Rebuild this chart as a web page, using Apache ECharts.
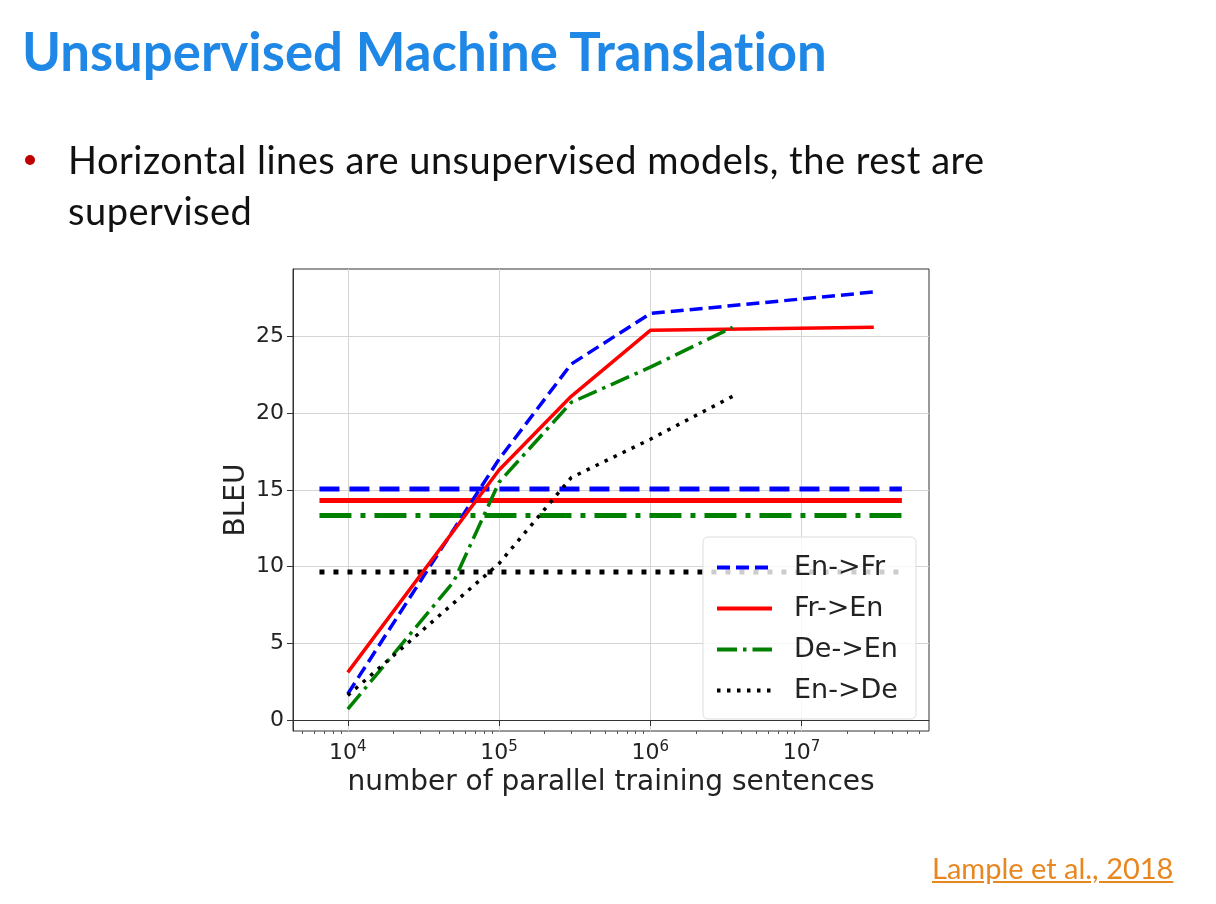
<!DOCTYPE html>
<html>
<head>
<meta charset="utf-8">
<script src="https://cdn.jsdelivr.net/npm/echarts@6/dist/echarts.min.js"></script>
<style>
  html, body { margin: 0; padding: 0; background: #fff; }
  #page { position: relative; width: 1216px; height: 904px; overflow: hidden; }
  #main { position: absolute; left: 0; top: 0; width: 1216px; height: 904px; }
  .txt { position: absolute; font-family: Lato, "Open Sans", sans-serif; white-space: nowrap; z-index: 2; font-variant-ligatures: none; line-height: 1.2; }
  #title { left: 22px; top: 19px; font-size: 52.7px; font-weight: bold; color: #1f88e6; }
  #bullet { left: 25px; top: 155px; width: 10px; height: 10px; border-radius: 5px; background: #c00000; position: absolute; z-index: 2; }
  #line1 { left: 68px; top: 137px; font-size: 38px; letter-spacing: 0.5px; color: #111; }
  #line2 { left: 68px; top: 188px; font-size: 38px; letter-spacing: 0.5px; color: #111; }
  #cite { left: 932px; top: 851px; font-size: 29px; color: #e8861f; text-decoration: underline; }
</style>
</head>
<body>
<div id="page">
  <div id="main"></div>
  <div class="txt" id="title">Unsupervised Machine Translation</div>
  <div id="bullet"></div>
  <div class="txt" id="line1">Horizontal lines are unsupervised models, the rest are</div>
  <div class="txt" id="line2">supervised</div>
  <div class="txt" id="cite">Lample et al., 2018</div>
</div>
<script>
// supervised curves (x = parallel sentences, y = BLEU)
var enFrX = [1e4, 1e5, 3e5, 1e6, 3e7];
var enFrY = [1.7, 17.0, 23.2, 26.5, 27.9];
var frEnX = [1e4, 1e5, 3e5, 1e6, 3e7];
var frEnY = [3.1, 16.3, 21.1, 25.4, 25.6];
var deEnX = [1e4, 5e4, 1e5, 3e5, 1e6, 3.5e6];
var deEnY = [0.7, 9.0, 15.5, 20.7, 23.0, 25.6];
var enDeX = [1e4, 1e5, 3e5, 1e6, 3.5e6];
var enDeY = [1.6, 10.2, 15.8, 18.3, 21.1];

// unsupervised results drawn as horizontal lines
var unsupX = [6500, 4.6e7];
var unsupBleu = [15.05, 14.31, 13.33, 9.64];

var names = ['En->Fr', 'Fr->En', 'De->En', 'En->De'];
var colors = ['#0000ff', '#ff0000', '#008000', '#000000'];
var yTicks = [0, 5, 10, 15, 20, 25];
var xTicks = [1e4, 1e5, 1e6, 1e7];

var minorTicks = [];
for (var e = 3; e <= 7; e++) {
    for (var m = 2; m <= 9; m++) minorTicks.push(m * Math.pow(10, e));
}

function pairs(xs, ys) {
    return xs.map(function (x, i) { return [x, ys[i]]; });
}

var curveDash = [[13, 6], 'solid', [20, 6, 3.5, 6], [3.5, 6.5]];
var flatDash = [[20, 10], 'solid', [32, 9, 5, 9], [5, 9]];
var curves = [pairs(enFrX, enFrY), pairs(frEnX, frEnY), pairs(deEnX, deEnY), pairs(enDeX, enDeY)];

var series = [];
unsupBleu.forEach(function (v, i) {
    series.push({
        name: names[i] + ' unsup',
        type: 'line',
        symbol: 'none',
        data: unsupX.map(function (x) { return [x, v]; }),
        lineStyle: { color: colors[i], width: 5, type: flatDash[i], cap: 'butt' },
        z: 2
    });
});
curves.forEach(function (d, i) {
    series.push({
        name: names[i],
        type: 'line',
        symbol: 'none',
        data: d,
        itemStyle: { color: colors[i] },
        lineStyle: { color: colors[i], width: 3.5, type: curveDash[i], cap: 'butt' },
        z: 3
    });
});

var font = 'DejaVu Sans';
var myChart = echarts.init(document.getElementById('main'));
var option = {
    animation: false,
    backgroundColor: '#fff',
    grid: { left: 293, top: 269, right: 287, bottom: 173, show: true, borderColor: '#333', borderWidth: 1, backgroundColor: 'transparent' },
    xAxis: [{
        type: 'log',
        logBase: 10,
        min: 4345,
        max: 6.95e7,
        name: 'number of parallel training sentences',
        nameLocation: 'middle',
        nameGap: 36,
        nameTextStyle: { fontFamily: font, fontSize: 28, color: '#222' },
        axisLine: { show: true, lineStyle: { color: '#333' } },
        axisTick: { show: true, length: 6, customValues: xTicks, lineStyle: { color: '#333' } },
        axisLabel: {
            customValues: xTicks,
            margin: 9,
            formatter: function (v) { return '10{sup|' + Math.round(Math.log10(v)) + '}'; },
            rich: {
                sup: { fontFamily: font, fontSize: 15, color: '#222', verticalAlign: 'top', padding: [0, 0, 11, 0] }
            },
            fontFamily: font, fontSize: 22, color: '#222'
        },
        splitLine: { show: true, lineStyle: { color: '#d4d4d4', width: 1 } }
    }, {
        type: 'log',
        logBase: 10,
        min: 4345,
        max: 6.95e7,
        position: 'bottom',
        axisLine: { show: false },
        axisTick: { show: true, length: 3, customValues: minorTicks, lineStyle: { color: '#555' } },
        axisLabel: { show: false },
        splitLine: { show: false }
    }],
    yAxis: {
        type: 'value',
        min: -0.72,
        max: 29.4,
        name: 'BLEU',
        nameLocation: 'middle',
        nameGap: 42,
        nameMoveOverlap: false,
        nameRotate: 90,
        nameTextStyle: { fontFamily: font, fontSize: 28, color: '#222' },
        axisLine: { show: true, lineStyle: { color: '#333' } },
        axisTick: { show: true, length: 6, customValues: yTicks, lineStyle: { color: '#333' } },
        axisLabel: { customValues: yTicks, fontFamily: font, fontSize: 22, color: '#222', margin: 9 },
        splitLine: { show: true, lineStyle: { color: '#d4d4d4', width: 1 } }
    },
    legend: {
        data: names,
        orient: 'vertical',
        left: 703,
        top: 537,
        itemWidth: 55,
        itemHeight: 14,
        itemGap: 14,
        padding: [17, 18, 15, 12],
        backgroundColor: 'rgba(255,255,255,0.8)',
        borderColor: '#dddddd',
        borderWidth: 1,
        borderRadius: 5,
        itemStyle: { opacity: 0 },
        lineStyle: { width: 4 },
        textStyle: { fontFamily: font, fontSize: 27, color: '#222', padding: [0, 0, 0, 17] },
        z: 10
    },
    series: series
};
myChart.setOption(option);
</script>
</body>
</html>
